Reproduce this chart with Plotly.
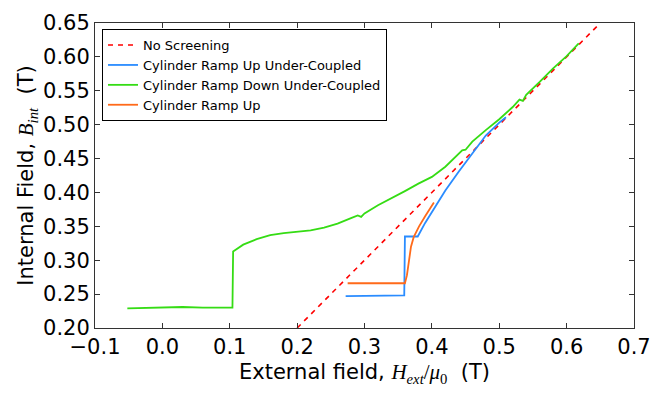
import plotly.graph_objects as go

# No screening reference: B_int = H_ext
noscreen_x = [0.2, 0.65]
noscreen_y = [0.2, 0.65]

# Cylinder ramp up, under-coupled
up_uc_x = [0.272, 0.30, 0.33, 0.359, 0.360, 0.37, 0.379, 0.39, 0.40, 0.42, 0.44,
           0.46, 0.48, 0.50, 0.51]
up_uc_y = [0.247, 0.247, 0.247, 0.248, 0.335, 0.335, 0.335, 0.355, 0.371, 0.403,
           0.431, 0.458, 0.484, 0.503, 0.511]

# Cylinder ramp down, under-coupled
down_uc_x = [-0.052, 0.0, 0.03, 0.06, 0.104, 0.105, 0.12, 0.14, 0.16, 0.18, 0.20,
             0.22, 0.24, 0.26, 0.28, 0.29, 0.295, 0.30, 0.32, 0.34, 0.36, 0.38,
             0.40, 0.42, 0.44, 0.445, 0.45, 0.46, 0.48, 0.50, 0.52, 0.53, 0.535,
             0.54, 0.56, 0.58, 0.60, 0.618]
down_uc_y = [0.229, 0.230, 0.231, 0.230, 0.230, 0.313, 0.323, 0.331, 0.337, 0.340,
             0.342, 0.344, 0.348, 0.354, 0.362, 0.366, 0.364, 0.369, 0.381, 0.391,
             0.402, 0.413, 0.423, 0.438, 0.457, 0.462, 0.463, 0.475, 0.492, 0.508,
             0.526, 0.537, 0.535, 0.544, 0.563, 0.583, 0.601, 0.620]

# Cylinder ramp up
up_x = [0.275, 0.32, 0.360, 0.363, 0.366, 0.369, 0.373, 0.377, 0.381, 0.390, 0.396,
        0.403]
up_y = [0.266, 0.266, 0.266, 0.278, 0.298, 0.320, 0.334, 0.343, 0.350, 0.365,
        0.375, 0.385]

fig = go.Figure()

fig.add_trace(go.Scatter(
    x=noscreen_x, y=noscreen_y, mode='lines', name='No Screening',
    line=dict(color='#ff0000', width=1.6, dash='5px,5px')
))
fig.add_trace(go.Scatter(
    x=up_uc_x, y=up_uc_y, mode='lines', name='Cylinder Ramp Up Under-Coupled',
    line=dict(color='#2a8cff', width=1.8)
))
fig.add_trace(go.Scatter(
    x=down_uc_x, y=down_uc_y, mode='lines', name='Cylinder Ramp Down Under-Coupled',
    line=dict(color='#35dc14', width=1.8)
))
fig.add_trace(go.Scatter(
    x=up_x, y=up_y, mode='lines', name='Cylinder Ramp Up',
    line=dict(color='#ff6a1a', width=1.8)
))

axis_common = dict(
    showline=True, linecolor='#333333', linewidth=1, mirror='allticks',
    ticks='inside', ticklen=5, tickcolor='#333333', showgrid=False,
    zeroline=False, tickfont=dict(size=21, color='black'), automargin=False,
)

MATH = '<span style="font-family:Liberation Serif">'

fig.update_layout(
    width=656, height=391,
    margin=dict(l=87, r=30, t=15, b=71),
    plot_bgcolor='white', paper_bgcolor='white',
    font=dict(family='DejaVu Sans', color='black'),
    xaxis=dict(
        range=[-0.1, 0.7], dtick=0.1, tick0=-0.1, tickformat='.1f',
        title=dict(text='External field, ' + MATH + '<i>H<sub>ext</sub></i>/<i>μ</i><sub>0</sub></span>&nbsp;&nbsp;(T)',
                   font=dict(size=21), standoff=6),
        **axis_common
    ),
    yaxis=dict(
        range=[0.2, 0.65], dtick=0.05, tick0=0.2, tickformat='.2f',
        title=dict(text='Internal Field, ' + MATH + '<i>B<sub>int</sub></i></span>&nbsp;&nbsp;(T)',
                   font=dict(size=21), standoff=3),
        **axis_common
    ),
    legend=dict(
        x=0.013, y=0.98, xanchor='left', yanchor='top',
        bordercolor='black', borderwidth=1, bgcolor='white',
        font=dict(size=13), tracegroupgap=0,
    ),
    showlegend=True,
)

fig.write_html("out.html")
